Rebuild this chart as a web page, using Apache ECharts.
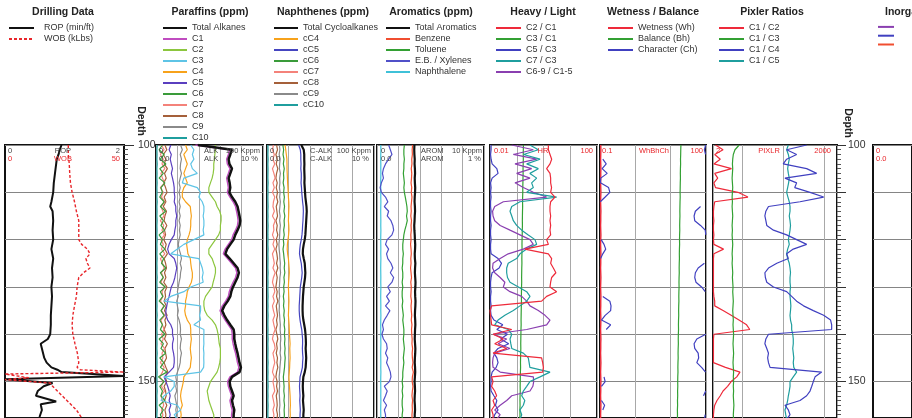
<!DOCTYPE html>
<html><head><meta charset="utf-8">
<script src="https://cdn.jsdelivr.net/npm/echarts@6/dist/echarts.min.js"></script>
<style>html,body{margin:0;padding:0;background:#fff}#c{width:912px;height:418px}</style>
</head><body><div id="c"></div>
<script>
// ---------------- DATA ----------------
const depth = [100,101,102,103,104,105,106,107,108,109,110,111,112,113,114,115,116,117,118,119,120,121,122,123,124,125,126,127,128,129,130,131,132,133,134,135,136,137,138,139,140,141,142,143,144,145,146,147,148,149,150,151,152,153,154,155,156,157,158];

// Drilling data
const ropDepth = [100,101,102,103,104,106,108,110,112,113,114,116,118,120,122,124,126,128,130,132,134,136,138,140,141,142,143,144,145,146,147,147.5,148,148.8,149.5,150.3,151,152,153,154.2,154.8,156,157.5];
const ropVal = [0.95,0.92,0.9,0.87,0.86,0.84,0.82,0.81,0.78,0.76,0.8,0.81,0.8,0.81,0.78,0.81,0.79,0.8,0.78,0.79,0.78,0.77,0.77,0.76,0.72,0.6,0.62,0.64,0.66,0.7,0.78,0.88,0.95,2.0,0.0,0.8,0.65,0.55,0.52,0.86,0.6,0.62,0.58];
const wobDepth = [100,102,104,106,108,110,112,114,116,118,120,121,122,123,124,125,126,127,128,130,132,134,136,138,140,142,144,146,147,147.5,148,148.4,149.2,149.6,150.3,151,152,153,154,155,156,157.5];
const wobVal = [26.6,26.6,27,27.2,27.5,28.2,29.2,30,31,31,31,32.2,34.6,35.7,34,34.6,35.7,33,31,30.3,30,29.2,28.5,28.2,28.5,29.4,30.4,31,30.3,31.6,50,0,10,0,19,20,22,24,26,28,30,32];

// Paraffins (ppm)
const paraTotal = [90,3500,2960,2470,2690,3550,2960,2470,2760,2960,2690,3550,5040,6460,7200,7980,8660,7980,6460,5040,4240,2960,2090,1740,2760,4240,6460,7470,6460,5040,3950,3300,2960,2240,1560,1230,1560,2090,2960,4240,4550,4550,5040,5620,6460,7200,7980,9300,7980,3550,2760,2960,3550,4240,3550,3950,4550,4240,4240];
const paraC1 = [70,2800,2400,2000,2150,2850,2400,2000,2200,2400,2150,2850,4000,5200,5800,6400,6900,6400,5200,4000,3400,2400,1700,1400,2200,3400,5200,6000,5200,4000,3150,2650,2400,1800,1250,980,1250,1700,2400,3400,3650,3650,4000,4500,5200,5800,6400,7400,6400,2850,2200,2400,2850,3400,2850,3150,3650,3400,3400];
const paraC2 = [600,600,560,540,500,500,470,420,350,295,295,420,600,715,950,1100,1100,1020,1020,850,600,420,295,295,420,500,600,600,540,470,420,295,206,173,173,190,247,420,600,715,800,850,900,1020,1020,1020,950,850,715,500,350,295,247,270,295,350,420,500,500];
const paraC3 = [42,59,50,59,42,50,85,20,17,85,121,101,145,173,173,160,173,173,160,173,59,20,10,4.9,101,121,145,160,145,160,42,20,4.9,2.4,121,121,110,121,59,173,173,170,173,165,173,170,173,168,121,2.4,7.1,7.1,4.9,2.4,1.7,10,14,7.1,10];
const paraC4 = [24,29,20,24,29,24,20,24,29,20,17,17,24,40,42,45,42,42,40,35,29,27,29,31,40,42,45,50,50,45,35,29,27,24,24,22,24,29,40,42,42,45,42,40,42,45,42,40,29,20,19,17,15,14,15,17,14,15,14];
const paraC5 = [4.9,4.1,5.2,4.6,5.2,5.9,5.2,5.9,6.6,7.1,7.1,7.6,7.1,8.4,8.4,9.3,8.4,8.4,7.6,7.1,5.2,4.1,3.5,4.1,7.1,8.4,9.3,8.4,7.6,6.6,5.2,4.6,4.1,3.5,3.2,2.9,2.9,3.5,4.9,5.9,5.9,6.6,5.9,5.9,6.6,7.1,7.1,6.6,4.1,2.4,2.9,3.5,4.1,4.6,4.1,4.9,4.1,4.6,4.1];
const paraC6 = [2.0,1.4,2.4,1.6,2.9,1.5,2.2,1.4,2.6,1.7,2.0,1.5,2.4,1.6,2.8,1.5,2.2,1.7,2.5,1.4,2.0,1.6,2.6,1.5,2.3,1.8,2.9,1.6,2.2,1.5,2.7,1.6,2.1,1.4,2.5,1.7,2.4,1.5,2.0,1.6,2.6,1.4,2.2,1.7,2.8,1.5,2.3,1.6,3.2,1.3,2.4,1.5,2.0,1.7,2.6,1.4,2.2,1.6,2.0];
const paraC7 = [1.8,2.4,1.6,2.2,1.9,2.6,1.7,2.0,2.5,1.6,2.2,1.8,2.6,1.7,2.1,2.4,1.6,2.3,1.9,2.5,1.7,2.2,1.8,2.6,1.6,2.0,2.4,1.8,2.2,1.7,2.5,1.9,2.1,1.6,2.3,1.8,2.6,1.7,2.0,2.4,1.8,2.2,1.7,2.5,1.9,2.1,1.6,2.4,2.0,1.5,2.2,1.8,2.5,1.7,2.0,2.3,1.8,2.1,1.9];
const paraC8 = [2.6,3.2,2.2,2.9,2.4,3.4,2.5,3.0,2.3,2.8,3.3,2.4,2.9,2.2,3.1,2.6,2.4,3.2,2.5,2.8,2.3,3.0,2.6,3.4,2.4,2.8,3.1,2.5,2.9,2.3,3.2,2.6,2.8,2.4,3.0,2.5,3.3,2.6,2.9,2.4,3.0,2.5,3.4,2.6,2.8,3.1,2.4,2.9,3.6,2.6,3.2,2.4,2.8,3.0,2.5,3.2,2.6,2.9,2.7];
const paraC9 = [14,17,13.5,15.5,14,13.5,15.5,13.5,12,13.5,12,13.5,12,13.5,12,13.5,12,13.5,12.5,13.5,12,11,12,14,15.5,13.5,15.5,14,13.5,12,11,10,11,9.3,10,11,10,12,13.5,14,13.5,15.5,14,13.5,15.5,14,13.5,12,10,8.4,9.3,8.4,9.3,7.6,8.4,9.3,8.4,9.3,8.4];
const paraC10 = [1.15,1.1,1.12,1.1,1.14,1.1,1.12,1.1,1.13,1.1,1.12,1.1,1.14,1.1,1.12,1.1,1.13,1.1,1.12,1.1,1.14,1.1,1.12,1.1,1.13,1.1,1.12,1.1,1.14,1.1,1.12,1.1,1.13,1.1,1.12,1.1,1.14,1.1,1.12,1.1,1.13,1.1,1.12,1.1,1.14,1.1,1.12,1.1,1.13,1.1,1.12,1.1,1.14,1.1,1.12,1.1,1.13,1.1,1.12];

// Naphthenes (ppm)
const naphTotal = [40,52,55,55,56,55,56,57,56,58,60,62,66,70,72,70,68,66,64,62,58,52,48,47,52,58,60,62,60,56,52,50,48,47,46,46,47,50,55,60,63,65,66,64,66,68,66,64,58,50,48,47,48,50,48,50,52,50,50];
const naphC4 = [7,7.5,8,8.5,8.6,8.6,8.8,9,9.2,9.5,9.8,10,10.4,10.6,10.4,10.2,10,10.4,10.6,10.2,9.6,9,8.8,9.2,10,10.4,10.8,11,10.6,10.2,10,10.2,10.4,10.6,10.4,10.2,10,10.4,10.8,11,11.2,11.6,12,11.6,11.8,12,11.6,11.4,11,10.6,10.8,11.2,11.6,12,12.2,12.4,12,12.2,12];
const naphC5 = [30,36,38,38,39,38,40,40,39,41,42,44,46,49,50,49,48,46,45,43,40,36,34,33,36,40,42,44,42,39,36,35,34,33,32,32,33,35,38,42,44,46,46,45,46,48,46,45,40,35,34,33,34,35,34,35,36,35,35];
const naphC6 = [5.5,6.0,5.6,6.2,5.8,6.4,5.9,6.1,5.7,6.3,6.0,6.5,6.1,6.6,6.2,6.8,6.3,6.5,6.0,6.4,5.8,6.1,5.6,6.0,6.3,6.7,6.4,6.8,6.2,6.5,6.0,6.3,5.8,6.2,5.9,6.4,6.1,6.6,6.3,6.8,6.5,6.9,6.6,7.0,6.7,7.1,6.8,6.6,6.2,5.8,6.0,6.3,6.1,6.5,6.2,6.6,6.3,6.5,6.4];
const naphC7 = [2.0,1.8,2.2,1.9,2.3,1.8,2.1,2.4,1.9,2.2,1.8,2.3,2.0,1.9,2.2,1.8,2.4,2.0,2.1,1.8,2.2,1.9,2.3,1.8,2.0,2.2,1.9,2.4,2.0,1.8,2.1,2.3,1.9,2.2,1.8,2.0,2.3,1.9,2.1,2.4,2.0,1.8,2.2,2.4,1.9,2.1,2.3,2.0,1.8,2.2,1.9,2.1,2.3,1.8,2.0,2.2,1.9,2.1,2.0];
const naphC8 = [2.8,3.1,2.6,3.0,2.7,3.2,2.8,2.6,3.0,2.7,3.1,2.8,3.2,2.7,2.9,3.1,2.6,3.0,2.8,3.2,2.7,3.0,2.6,2.9,3.1,2.8,3.2,2.7,3.0,2.8,2.6,3.0,2.8,3.2,2.7,2.9,3.1,2.8,3.0,2.6,2.9,3.2,2.8,3.0,2.7,3.1,2.9,3.2,2.8,2.6,3.0,2.8,3.1,2.7,2.9,3.0,2.8,3.1,2.9];
const naphC9 = [3.8,4.0,3.7,4.1,3.9,3.8,4.2,3.9,4.0,3.8,4.1,3.9,4.2,4.0,3.8,4.1,3.9,4.2,4.0,3.9,3.8,3.6,3.7,3.9,4.0,4.2,4.1,4.3,4.0,3.9,3.8,3.7,3.9,3.6,3.8,3.7,3.9,4.0,4.2,4.1,4.3,4.4,4.2,4.3,4.1,4.4,4.2,4.0,3.9,3.7,3.8,3.9,3.7,3.8,3.9,4.0,3.8,3.9,3.8];
const naphC10 = [1.1,1.12,1.1,1.13,1.1,1.12,1.11,1.1,1.13,1.1,1.12,1.1,1.11,1.13,1.1,1.12,1.1,1.13,1.11,1.1,1.12,1.1,1.13,1.1,1.12,1.11,1.1,1.13,1.1,1.12,1.1,1.11,1.13,1.1,1.12,1.1,1.13,1.11,1.1,1.12,1.1,1.13,1.1,1.12,1.11,1.1,1.13,1.1,1.12,1.1,1.11,1.13,1.1,1.12,1.1,1.13,1.11,1.1,1.12];

// Aromatics (ppm)
const aromTotal = [5.6,5.5,5.6,5.8,5.7,5.9,6.0,5.8,5.9,6.1,6.0,5.8,5.7,5.9,6.0,5.8,5.7,5.5,5.6,5.8,5.9,6.1,6.0,5.8,5.9,6.2,6.0,5.9,6.1,6.3,6.2,6.0,6.1,6.3,6.2,6.0,5.9,6.1,6.2,6.0,5.9,5.8,6.0,6.2,6.1,5.9,5.8,6.0,6.1,5.9,5.7,5.9,6.0,5.8,5.7,5.9,6.0,5.8,5.8];
const benzene = [4.6,4.4,4.5,4.2,4.3,4.0,4.2,4.1,3.9,4.2,4.0,4.3,4.1,3.9,4.0,3.8,4.1,3.9,4.0,3.8,3.9,3.7,3.9,4.0,3.8,3.9,3.7,3.9,4.1,3.8,4.0,3.9,3.8,4.1,3.9,4.0,4.2,4.0,4.3,4.1,4.2,4.4,4.3,4.6,4.4,4.5,4.8,4.4,5.0,4.5,4.4,4.8,4.5,4.3,4.6,4.4,4.5,4.3,4.4];
const toluene = [1.9,1.8,1.8,1.9,1.8,1.8,1.7,1.8,1.9,1.8,1.9,2.1,2.3,2.5,2.6,2.4,2.6,2.3,2.0,1.8,1.7,1.6,1.6,1.7,1.6,1.6,1.5,1.6,1.6,1.5,1.6,1.5,1.5,1.6,1.5,1.6,1.7,1.6,1.7,1.8,1.8,1.7,1.8,1.9,1.8,1.7,1.8,1.7,1.6,1.6,1.5,1.6,1.5,1.6,1.5,1.5,1.6,1.5,1.5];
const ebXylenes = [0.35,0.42,0.5,0.35,0.25,0.2,0.18,0.2,0.16,0.14,0.16,0.25,0.32,0.22,0.35,0.3,0.45,0.55,0.6,0.5,0.3,0.25,0.35,0.28,0.32,0.45,0.55,0.42,0.6,0.5,0.32,0.42,0.28,0.38,0.25,0.4,0.3,0.22,0.18,0.2,0.17,0.2,0.28,0.3,0.25,0.32,0.28,0.35,0.42,0.45,0.38,0.22,0.3,0.25,0.2,0.28,0.22,0.25,0.25];
const naphthalene = [0.15,0.152,0.15,0.149,0.151,0.15,0.152,0.15,0.149,0.15,0.151,0.15,0.152,0.15,0.149,0.15,0.151,0.15,0.152,0.15,0.149,0.15,0.151,0.15,0.152,0.15,0.149,0.15,0.151,0.15,0.152,0.15,0.149,0.15,0.151,0.15,0.152,0.15,0.149,0.15,0.151,0.15,0.152,0.15,0.149,0.15,0.151,0.15,0.152,0.15,0.149,0.15,0.151,0.15,0.152,0.15,0.149,0.15,0.15];

// Heavy / Light ratios
const c2c1 = [1.52,1.52,1.75,2.02,1.75,1.31,1.75,1.85,1.85,2.0,1.85,2.69,1.85,1.75,1.75,1.85,1.75,1.85,1.75,1.85,1.31,1.52,0.2,1.52,2.02,1.85,2.33,2.9,2.02,1.85,1.75,3.1,1.31,0.85,0.0115,0.01,0.0105,0.011,0.0115,0.065,0.013,0.0315,0.015,0.042,0.013,0.85,0.93,0.99,0.93,0.0115,0.013,0.0115,0.015,0.0177,0.013,0.015,0.0115,0.013,0.013];
const c3c1 = [0.178,0.176,0.175,0.176,0.174,0.172,0.173,0.171,0.17,0.168,0.168,0.166,0.165,0.166,0.164,0.163,0.162,0.163,0.161,0.16,0.158,0.157,0.158,0.156,0.155,0.156,0.154,0.153,0.152,0.153,0.151,0.15,0.149,0.15,0.148,0.147,0.146,0.145,0.146,0.144,0.143,0.142,0.141,0.142,0.14,0.139,0.138,0.139,0.137,0.136,0.135,0.134,0.135,0.133,0.132,0.133,0.131,0.132,0.13];
const c5c3 = [0.011,0.011,0.0105,0.011,0.012,0.018,0.02,0.012,0.0105,0.011,0.0105,0.011,0.0105,0.0105,0.011,0.0105,0.0105,0.011,0.0105,0.0105,0.011,0.0105,0.0105,0.011,0.02,0.027,0.022,0.012,0.011,0.0105,0.0105,0.011,0.0105,0.0105,0.011,0.0105,0.011,0.014,0.03,0.018,0.045,0.025,0.05,0.02,0.014,0.018,0.02,0.017,0.012,0.011,0.011,0.0105,0.011,0.014,0.018,0.016,0.02,0.015,0.013];
const c7c3 = [0.31,0.64,0.18,0.74,0.235,0.64,0.31,0.556,0.36,0.417,0.235,3.1,0.132,0.065,0.056,0.065,0.0745,0.099,0.153,0.27,0.48,0.556,0.235,0.132,0.099,0.048,0.042,0.042,0.045,0.056,0.115,0.235,0.313,0.235,0.132,0.0745,0.036,0.02,0.015,0.048,0.065,0.056,0.06,0.065,0.176,0.27,0.29,0.31,1.75,0.74,0.31,0.235,0.176,0.153,0.2,0.176,0.132,0.153,0.132];
const c69c15 = [0.065,0.417,0.0745,0.556,0.086,0.36,0.099,0.313,0.086,0.176,0.417,1.31,0.0315,0.015,0.0125,0.013,0.015,0.024,0.056,0.132,0.313,0.417,0.176,0.048,0.024,0.013,0.0125,0.015,0.024,0.036,0.0315,0.056,0.153,0.235,0.313,0.64,1.14,1.75,1.31,0.235,0.013,0.042,0.02,0.056,0.015,0.013,0.0125,0.013,0.024,0.417,0.43,0.4,0.313,0.065,0.042,0.024,0.015,0.024,0.0177];

// Wetness / Balance / Character
const wetness = [0.105,0.106,0.105,0.104,0.105,0.106,0.105,0.105,0.104,0.105,0.106,0.105,0.104,0.105,0.106,0.105,0.105,0.104,0.105,0.106,0.105,0.104,0.105,0.106,0.105,0.105,0.104,0.105,0.106,0.105,0.104,0.105,0.106,0.105,0.105,0.104,0.105,0.106,0.105,0.104,0.105,0.106,0.105,0.105,0.104,0.105,0.106,0.105,0.104,0.105,0.106,0.105,0.105,0.104,0.105,0.106,0.105,0.104,0.105];
const balance = [19.5,19.3,19.2,19.0,19.1,18.9,18.8,18.9,18.7,18.6,18.5,18.6,18.4,18.3,18.2,18.3,18.1,18.0,18.1,17.9,17.8,17.9,17.7,17.6,17.7,17.5,17.4,17.5,17.3,17.2,17.3,17.1,17.0,17.1,16.9,16.8,16.9,16.7,16.6,16.7,16.5,16.4,16.5,16.3,16.2,16.3,16.1,16.0,16.1,15.9,15.8,15.9,15.7,15.8,15.6,15.7,15.5,15.6,15.5];
const character = [98,90,97,120,150,115,160,105,103,175,190,140,102,70,50,46,48,70,95,99,108,130,145,120,104,90,60,50,48,52,75,95,120,190,205,200,140,110,200,150,98,55,46,48,60,62,55,75,97,130,140,110,98,85,110,135,120,95,90];

// Pixler ratios
const c1c2 = [2.3,3.5,2.2,3.0,2.1,5.6,2.2,2.6,2.1,2.3,8,14,2.2,2.1,2.05,2.05,2.1,2.05,2.05,2.1,2.05,2.1,3.6,2.1,2.05,2.05,2.05,2.05,2.05,2.05,2.05,2.05,2.1,2.2,2.2,3.5,5.5,8.5,13,15.5,2.1,2.05,2.05,2.05,2.05,2.05,2.05,4,9,7.5,5.5,4.5,3.5,3.0,2.5,2.2,2.1,2.05,2.05];
const c1c3 = [8.6,6.8,6.2,6.0,5.9,6.0,5.9,5.8,5.9,6.0,5.9,5.8,5.9,5.8,5.9,6.0,5.9,5.8,5.9,5.8,5.9,6.0,5.9,5.8,5.9,5.8,5.9,6.0,5.9,6.0,6.1,6.0,6.1,6.2,6.1,6.0,6.1,6.2,6.1,6.2,6.3,6.2,6.1,6.2,6.3,6.2,6.1,6.2,6.3,6.2,6.3,6.2,6.3,6.2,6.3,6.4,6.3,6.2,6.3];
const c1c4 = [369,121,211,121,100,369,644,110,211,190,445,950,255,44,38,36,38,40,58,121,211,369,175,121,133,70,44,36,37,40,58,121,160,211,310,535,950,1400,1486,1486,44,38,36,40,44,42,44,48,852,590,535,490,445,369,255,110,133,146,121];
const c1c5 = [133,121,133,140,133,128,133,140,135,128,121,130,140,146,146,140,146,150,146,140,133,140,128,121,128,140,146,150,146,146,150,146,146,150,153,150,146,150,160,160,170,175,175,170,175,180,175,180,211,175,146,146,140,133,128,121,110,115,121];

// Tick labels shown on depth axes
const depthLabels = [100, 150];

// ---------------- LAYOUT ----------------
const TOP = 145, H = 276, DMAX = 157.7;
const tracks = [
  {left:5, width:119},   // drilling
  {left:156, width:107}, // paraffins
  {left:267, width:107}, // naphthenes
  {left:377, width:107}, // aromatics
  {left:490, width:107}, // heavy/light
  {left:600, width:106}, // wetness
  {left:713, width:124}, // pixler
  {left:873, width:110}  // inorganics
];
const FONT = 'Liberation Sans, Arial, sans-serif';

const grids = tracks.map(t => ({left:t.left, top:TOP, width:t.width, height:H, show:true, borderColor:'#111', borderWidth:2, backgroundColor:'#fff'}));

function logX(grid, min, max) {
  return {type:'log', logBase:10, gridIndex:grid, min, max, axisLine:{show:false, onZero:false}, axisTick:{show:false}, axisLabel:{show:false},
    splitLine:{show:true, lineStyle:{color:'#a8a8a8', width:1}}};
}
function linX(grid, min, max) {
  return {type:'value', gridIndex:grid, min, max, axisLine:{show:false, onZero:false}, axisTick:{show:false}, axisLabel:{show:false}, splitLine:{show:false}};
}
const xAxes = [linX(0,0,2), linX(0,0,50), logX(1,1,100000), logX(2,1,100000), logX(3,0.1,10000), logX(4,0.01,100), logX(5,0.1,100), logX(6,2,2000), linX(7,0,1)];

// plain depth axes (grid lines only), one per track
const yAxes = tracks.map((t,i) => ({type:'value', gridIndex:i, inverse:true, min:100, max:DMAX, interval:10,
  axisLine:{show:false, onZero:false}, axisTick:{show:false}, axisLabel:{show:false}, minorTick:{show:false},
  splitLine:{show:true, lineStyle:{color:'#858585', width:1}}}));
// labelled depth scales on the right of the drilling and Pixler tracks
function depthScale(grid, margin, tickLen) {
  return {type:'value', gridIndex:grid, position:'right', inverse:true, min:100, max:DMAX, interval:10,
    axisLine:{show:false, onZero:false}, splitLine:{show:false},
    axisTick:{show:true, inside:false, length:tickLen, lineStyle:{color:'#333'}},
    minorTick:{show:true, splitNumber:10, length:4, lineStyle:{color:'#555'}},
    axisLabel:{show:true, margin, fontSize:10.5, color:'#333', fontFamily:FONT,
      formatter: v => depthLabels.indexOf(v) >= 0 ? String(v) : ''}};
}
yAxes.push(depthScale(0, 14, 10));
yAxes.push(depthScale(6, 11, 9));

const pts = (vals, dep) => vals.map((v,i) => [v, dep[i]]);
// wrap-around display (values above the scale are backed up by one scale span)
function wrapPts(vals, dep, limit, factor) {
  const out = []; let prev = null;
  vals.forEach((v,i) => { const w = v > limit; if (prev !== null && prev !== w) out.push('-'); out.push([w ? v/factor : v, dep[i]]); prev = w; });
  return out;
}
function S(name, xi, yi, data, color, width, type) {
  return {name, type:'line', xAxisIndex:xi, yAxisIndex:yi, data, symbol:'none', showSymbol:false, silent:true, animation:false,
    connectNulls:false, lineStyle:{color, width, type: type || 'solid'}, itemStyle:{color}};
}

const series = [
  S('ROP (min/ft)',0,0,pts(ropVal,ropDepth),'#111',2),
  S('WOB (kLbs)',1,0,pts(wobVal,wobDepth),'#e8262b',1.4,[3,2]),

  S('C10',2,1,pts(paraC10,depth),'#1f9e9e',1.2),
  S('C9',2,1,pts(paraC9,depth),'#8a8a8a',1.2),
  S('C8',2,1,pts(paraC8,depth),'#a5603a',1.2),
  S('C7',2,1,pts(paraC7,depth),'#f4827a',1.2),
  S('C6',2,1,pts(paraC6,depth),'#3a9b3a',1.2),
  S('C5',2,1,pts(paraC5,depth),'#5a3fbf',1.2),
  S('C4',2,1,pts(paraC4,depth),'#f7a21b',1.2),
  S('C3',2,1,pts(paraC3,depth),'#5ec4e6',1.2),
  S('C2',2,1,pts(paraC2,depth),'#8cc63e',1.2),
  S('C1',2,1,pts(paraC1,depth),'#c04cc0',1.4),
  S('Total Alkanes',2,1,pts(paraTotal,depth),'#111',2.5),

  S('cC10',3,2,pts(naphC10,depth),'#1f9e9e',1.2),
  S('cC9',3,2,pts(naphC9,depth),'#8a8a8a',1.2),
  S('cC8',3,2,pts(naphC8,depth),'#a5603a',1.2),
  S('cC7',3,2,pts(naphC7,depth),'#f4827a',1.2),
  S('cC6',3,2,pts(naphC6,depth),'#3a9b3a',1.2),
  S('cC5',3,2,pts(naphC5,depth),'#4545c0',1.2),
  S('cC4',3,2,pts(naphC4,depth),'#f7a21b',1.2),
  S('Total Cycloalkanes',3,2,pts(naphTotal,depth),'#111',2.2),

  S('Naphthalene',4,3,pts(naphthalene,depth),'#3fc1d8',1.2),
  S('E.B. / Xylenes',4,3,pts(ebXylenes,depth),'#5050c8',1.2),
  S('Toluene',4,3,pts(toluene,depth),'#33a033',1.2),
  S('Benzene',4,3,pts(benzene,depth),'#f04e30',1.2),
  S('Total Aromatics',4,3,pts(aromTotal,depth),'#111',2.2),

  S('C3 / C1',5,4,pts(c3c1,depth),'#33a033',1.2),
  S('C5 / C3',5,4,pts(c5c3,depth),'#4040c0',1.2),
  S('C6-9 / C1-5',5,4,pts(c69c15,depth),'#8a3fb0',1.2),
  S('C7 / C3',5,4,pts(c7c3,depth),'#1f9e9e',1.2),
  S('C2 / C1',5,4,pts(c2c1,depth),'#ee2a3a',1.2),

  S('Wetness (Wh)',6,5,pts(wetness,depth),'#ee2a3a',1.4),
  S('Balance (Bh)',6,5,pts(balance,depth),'#33a033',1.2),
  S('Character (Ch)',6,5,wrapPts(character,depth,100,1000),'#4040c0',1.2),

  S('C1 / C2',7,6,pts(c1c2,depth),'#ee2a3a',1.2),
  S('C1 / C3',7,6,pts(c1c3,depth),'#33a033',1.2),
  S('C1 / C5',7,6,pts(c1c5,depth),'#1f9e9e',1.2),
  S('C1 / C4',7,6,pts(c1c4,depth),'#4040c0',1.2),

  S('Inorg A',8,7,[],'#8a3fb0',1.2),
  S('Inorg B',8,7,[],'#4040c0',1.2),
  S('Inorg C',8,7,[],'#f04e30',1.2)
];

function L(left, names, extra) {
  return Object.assign({left, top:22.5, padding:0, orient:'vertical', itemWidth:24, itemHeight:11, itemGap:0, selectedMode:false,
    itemStyle:{opacity:0, borderWidth:0},
    textStyle:{fontSize:9, color:'#333', fontFamily:FONT, lineHeight:11}, data:names}, extra||{});
}
const legends = [
  L(8, ['ROP (min/ft)','WOB (kLbs)'], {itemWidth:25, textStyle:{fontSize:9, color:'#333', fontFamily:FONT, lineHeight:11, padding:[0,0,0,5]}}),
  L(162, ['Total Alkanes','C1','C2','C3','C4','C5','C6','C7','C8','C9','C10']),
  L(273, ['Total Cycloalkanes','cC4','cC5','cC6','cC7','cC8','cC9','cC10']),
  L(385, ['Total Aromatics','Benzene','Toluene','E.B. / Xylenes','Naphthalene']),
  L(495, ['C2 / C1','C3 / C1','C5 / C3','C7 / C3','C6-9 / C1-5'], {itemWidth:25}),
  L(607, ['Wetness (Wh)','Balance (Bh)','Character (Ch)'], {itemWidth:25}),
  L(718, ['C1 / C2','C1 / C3','C1 / C4','C1 / C5'], {itemWidth:25}),
  L(877, ['Inorg A','Inorg B','Inorg C'], {itemWidth:16, formatter: () => ''})
];

// ---------------- TEXT ----------------
const RED = '#e8262b', DARK = '#444';
function T(text, x, y, align, color, font, rot) {
  const el = {type:'text', x, y, silent:true, z:100,
    style:{text, fill:color, font, align, textAlign:align, verticalAlign:'middle', textVerticalAlign:'middle'}};
  if (rot) el.rotation = rot;
  return el;
}
const TF = 'bold 10.5px ' + FONT, HF = '7.5px ' + FONT;
const R1 = 151, R2 = 158.5;
const texts = [
  T('Drilling Data',63,12,'center','#222',TF),
  T('Paraffins (ppm)',210,12,'center','#222',TF),
  T('Naphthenes (ppm)',323,12,'center','#222',TF),
  T('Aromatics (ppm)',431,12,'center','#222',TF),
  T('Heavy / Light',543,12,'center','#222',TF),
  T('Wetness / Balance',653,12,'center','#222',TF),
  T('Pixler Ratios',772,12,'center','#222',TF),
  T('Inorganics',885,12,'left','#222',TF),
  T('Depth',141,121,'center','#222',TF,-Math.PI/2),
  T('Depth',848,123,'center','#222',TF,-Math.PI/2),
  // drilling header
  T('0',8,R1,'left',DARK,HF), T('ROP',63,R1,'center',DARK,HF), T('2',120,R1,'right',DARK,HF),
  T('0',8,R2,'left',RED,HF), T('WOB',63,R2,'center',RED,HF), T('50',120,R2,'right',RED,HF),
  // paraffins
  T('0',159,R1,'left',DARK,HF), T('0.0',159,R2,'left',DARK,HF),
  T('ALK',204,R1,'left',DARK,HF), T('ALK',204,R2,'left',DARK,HF),
  T('100 Kppm',260,R1,'right',DARK,HF), T('10 %',258,R2,'right',DARK,HF),
  // naphthenes
  T('0',270,R1,'left',DARK,HF), T('0.0',270,R2,'left',DARK,HF),
  T('C-ALK',310,R1,'left',DARK,HF), T('C-ALK',310,R2,'left',DARK,HF),
  T('100 Kppm',371,R1,'right',DARK,HF), T('10 %',369,R2,'right',DARK,HF),
  // aromatics
  T('0',381,R1,'left',DARK,HF), T('0.0',381,R2,'left',DARK,HF),
  T('AROM',421,R1,'left',DARK,HF), T('AROM',421,R2,'left',DARK,HF),
  T('10 Kppm',482,R1,'right',DARK,HF), T('1 %',481,R2,'right',DARK,HF),
  // heavy / light
  T('0.01',494,R1,'left',RED,HF), T('HR',543,R1,'center',RED,HF), T('100',593,R1,'right',RED,HF),
  // wetness
  T('0.1',602,R1,'left',RED,HF), T('WhBhCh',654,R1,'center',RED,HF), T('100',703,R1,'right',RED,HF),
  // pixler
  T('2',716,R1,'left',RED,HF), T('PIXLR',769,R1,'center',RED,HF), T('2000',831,R1,'right',RED,HF),
  // inorganics
  T('0',876,R1,'left',RED,HF), T('0.0',876,R2,'left',RED,HF)
];

const chart = echarts.init(document.getElementById('c'), null, {renderer:'canvas'});
chart.setOption({
  backgroundColor:'#fff',
  animation:false,
  grid:grids, xAxis:xAxes, yAxis:yAxes, series, legend:legends,
  graphic:{elements:texts}
});
</script>
</body></html>
